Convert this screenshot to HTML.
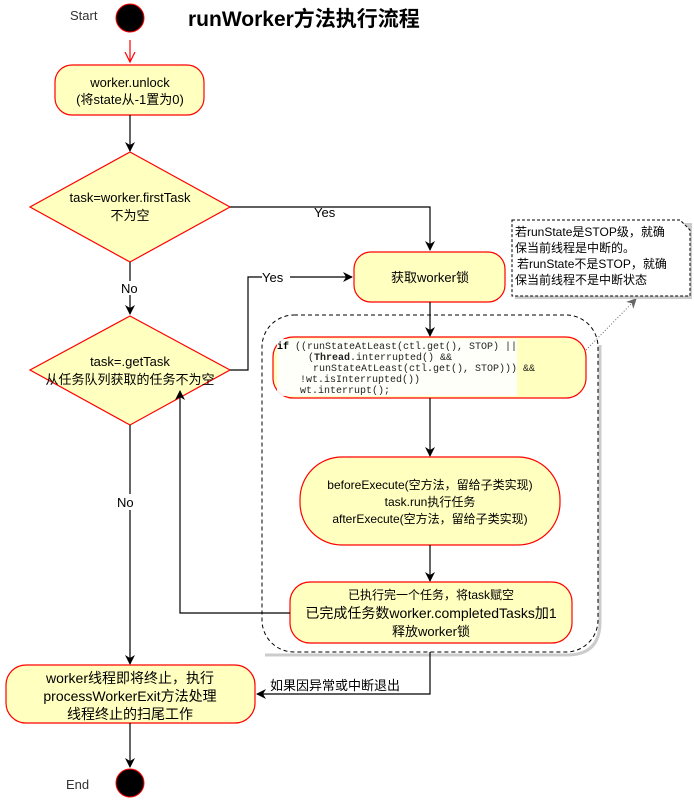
<!DOCTYPE html>
<html><head><meta charset="utf-8"><style>
html,body{margin:0;padding:0;background:#fff;}
svg{display:block;}
text{font-family:"Liberation Sans","Noto Sans CJK SC",sans-serif;font-size:12px;fill:#000;}
.c{text-anchor:middle;}
.m{font-family:"Liberation Mono","DejaVu Sans Mono",monospace;font-size:10px;fill:#222;}
.box{fill:#ffffc0;stroke:#ff0000;stroke-width:1.2;}
.ln{stroke:#000;stroke-width:1.2;fill:none;}
</style></head><body>
<svg width="694" height="808" viewBox="0 0 694 808" xmlns="http://www.w3.org/2000/svg">
<defs>
<marker id="a" markerWidth="10" markerHeight="10" refX="9" refY="5" orient="auto" markerUnits="userSpaceOnUse"><path d="M0,0 L10,5 L0,10 L3,5 Z" fill="#000"/></marker>
<marker id="r" markerWidth="12" markerHeight="12" refX="10" refY="6" orient="auto" markerUnits="userSpaceOnUse"><path d="M0,1 L10,6 L0,11" fill="none" stroke="#ff0000" stroke-width="1.2"/></marker>
<marker id="g" markerWidth="10" markerHeight="10" refX="9" refY="5" orient="auto" markerUnits="userSpaceOnUse"><path d="M0,0 L10,5 L0,10 L3,5 Z" fill="#666"/></marker>
</defs>
<text x="70" y="20" style="font-size:13px;fill:#333">Start</text>
<circle cx="130" cy="18" r="14" fill="#000" stroke="#ff0000"/>
<text x="188" y="26" style="font-size:21px;font-weight:bold">runWorker方法执行流程</text>
<line x1="130" y1="40" x2="130" y2="62" stroke="#ff0000" stroke-width="1.2" marker-end="url(#r)"/>
<rect class="box" x="55" y="65" width="149" height="50" rx="17"/>
<text class="c" x="130" y="87" style="font-size:13px">worker.unlock</text>
<text class="c" x="130" y="104" style="font-size:13px">(将state从-1置为0)</text>
<line class="ln" x1="130" y1="115" x2="130" y2="151" marker-end="url(#a)"/>
<polygon class="box" points="130,152 230,207 130,262 30,207"/>
<text class="c" x="130" y="202" style="font-size:13px">task=worker.firstTask</text>
<text class="c" x="130" y="220" style="font-size:13px">不为空</text>
<polyline class="ln" points="230,207 430,207 430,250" marker-end="url(#a)"/>
<text x="314" y="217" style="font-size:13px">Yes</text>
<line class="ln" x1="130" y1="262" x2="130" y2="314" marker-end="url(#a)"/>
<rect x="118" y="281" width="24" height="14" fill="#fff"/>
<text x="121" y="293" style="font-size:13px">No</text>
<polygon class="box" points="130,316 230,370 130,425 30,370"/>
<text class="c" x="130" y="366" style="font-size:13px">task=.getTask</text>
<text class="c" x="130" y="384" style="font-size:13px">从任务队列获取的任务不为空</text>
<polyline class="ln" points="230,370 248,370 248,277 352,277" marker-end="url(#a)"/>
<rect x="262" y="270" width="28" height="14" fill="#fff"/>
<text x="262" y="282" style="font-size:13px">Yes</text>
<rect class="box" x="354" y="252" width="151" height="50" rx="17"/>
<text class="c" x="430" y="282" style="font-size:13px">获取worker锁</text>
<path d="M600,345 L600,622 Q600,655 567,655 L265,655" fill="none" stroke="#ccc" stroke-width="3"/>
<rect x="262" y="315" width="336" height="337" rx="32" fill="none" stroke="#000" stroke-dasharray="4,3"/>
<line class="ln" x1="430" y1="302" x2="430" y2="336" marker-end="url(#a)"/>
<rect class="box" x="273" y="337" width="313" height="61" rx="20"/>
<rect x="277" y="339" width="240" height="57" fill="#fff" opacity="0.9"/>
<text class="m" x="277" y="349"><tspan font-weight="bold" fill="#000">if</tspan> ((runStateAtLeast(ctl.get(), STOP) ||</text>
<text class="m" x="308" y="360">(<tspan font-weight="bold">Thread</tspan>.interrupted() &amp;&amp;</text>
<text class="m" x="313" y="371">runStateAtLeast(ctl.get(), STOP))) &amp;&amp;</text>
<text class="m" x="300" y="382">!wt.isInterrupted())</text>
<text class="m" x="300" y="393">wt.interrupt();</text>
<line x1="586" y1="350" x2="636" y2="299" stroke="#666" stroke-dasharray="1,2" marker-end="url(#g)"/>
<rect x="515" y="223" width="177" height="76" fill="#ccc"/>
<path d="M512,220 L680,220 L690,230 L690,296 L512,296 Z" fill="#fff" stroke="#000" stroke-dasharray="3,2"/>
<text x="515" y="236" style="font-size:12px">若runState是STOP级，就确</text>
<text x="515" y="252" style="font-size:12px">保当前线程是中断的。</text>
<text x="517" y="268" style="font-size:12px">若runState不是STOP，就确</text>
<text x="515" y="284" style="font-size:12px">保当前线程不是中断状态</text>
<line class="ln" x1="430" y1="398" x2="430" y2="456" marker-end="url(#a)"/>
<rect class="box" x="300" y="457" width="260" height="88" rx="42"/>
<text class="c" x="430" y="489" style="font-size:12px">beforeExecute(空方法，留给子类实现)</text>
<text class="c" x="430" y="506" style="font-size:12px">task.run执行任务</text>
<text class="c" x="430" y="523" style="font-size:12px">afterExecute(空方法，留给子类实现)</text>
<line class="ln" x1="430" y1="545" x2="430" y2="581" marker-end="url(#a)"/>
<rect class="box" x="290" y="582" width="282" height="61" rx="20"/>
<text class="c" x="431" y="599" style="font-size:12px">已执行完一个任务，将task赋空</text>
<text class="c" x="431" y="618" style="font-size:14px">已完成任务数worker.completedTasks加1</text>
<text class="c" x="431" y="636" style="font-size:13px">释放worker锁</text>
<polyline class="ln" points="290,613 180,613 180,391" marker-end="url(#a)"/>
<line class="ln" x1="130" y1="425" x2="130" y2="664" marker-end="url(#a)"/>
<rect x="116" y="494" width="24" height="16" fill="#fff"/>
<text x="117" y="507" style="font-size:13px">No</text>
<rect class="box" x="6" y="665" width="249" height="58" rx="20"/>
<text class="c" x="130" y="683" style="font-size:14px">worker线程即将终止，执行</text>
<text class="c" x="130" y="701" style="font-size:14px">processWorkerExit方法处理</text>
<text class="c" x="130" y="719" style="font-size:14px">线程终止的扫尾工作</text>
<polyline class="ln" points="430,652 430,694 257,694" marker-end="url(#a)"/>
<text x="270" y="690" style="font-size:13px">如果因异常或中断退出</text>
<line class="ln" x1="130" y1="723" x2="130" y2="767" marker-end="url(#a)"/>
<circle cx="130" cy="783" r="14" fill="#000" stroke="#ff0000"/>
<text x="66" y="789" style="font-size:13px;fill:#333">End</text>
</svg>
</body></html>
